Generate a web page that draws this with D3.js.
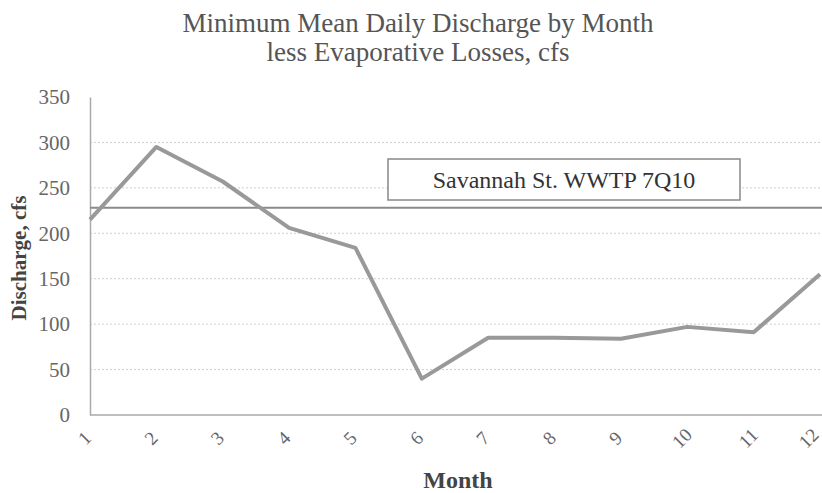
<!DOCTYPE html>
<html><head><meta charset="utf-8">
<script src="https://cdn.jsdelivr.net/npm/d3@7"></script>
<style>body{margin:0;background:#fff}</style>
</head><body>
<svg id="c" width="822" height="493"></svg>
<script>
const months = ["1","2","3","4","5","6","7","8","9","10","11","12"];
const discharge = [215, 295, 257, 206, 184, 40, 85, 85, 84, 97, 91, 155];
const yTicks = [0, 50, 100, 150, 200, 250, 300, 350];
const refValue = 228;
const refLabel = "Savannah St. WWTP 7Q10";
const titleLines = ["Minimum Mean Daily Discharge by Month", "less Evaporative Losses, cfs"];

const svg = d3.select("#c");
const mLeft = 90, mRight = 820, mTop = 97, mBottom = 415;
const x = d3.scalePoint().domain(months).range([mLeft, mRight]);
const y = d3.scaleLinear().domain([0, 350]).range([mBottom, mTop]);
const serif = "'Liberation Serif', 'DejaVu Serif', serif";

// gridlines
svg.append("g").selectAll("line").data(yTicks.filter(d => d > 0 && d < 350)).join("line")
  .attr("x1", mLeft).attr("x2", 822).attr("y1", d => y(d)).attr("y2", d => y(d))
  .attr("stroke", "#cfcfcf").attr("stroke-width", 1).attr("stroke-dasharray", "2,2");

// axes
const yAxis = svg.append("g").attr("transform", `translate(${mLeft},0)`)
  .call(d3.axisLeft(y).tickValues(yTicks).tickSize(0).tickPadding(20));
yAxis.select(".domain").attr("stroke", "#aaa").attr("stroke-width", 1.5);
yAxis.selectAll("text").attr("font-family", serif).attr("font-size", 21).attr("fill", "#666");

const xAxis = svg.append("g").attr("transform", `translate(0,${mBottom})`)
  .call(d3.axisBottom(x).tickSize(0).tickPadding(0));
xAxis.select(".domain").attr("stroke", "#aaa").attr("stroke-width", 1.5).attr("d", `M${mLeft},0H822`);
xAxis.selectAll("text").attr("font-family", serif).attr("font-size", 19).attr("fill", "#666")
  .attr("text-anchor", "middle").attr("dy", "0.35em").attr("y", 0)
  .attr("transform", (d, i) => `translate(${i === months.length - 1 ? -12 : -6},23) rotate(-45)`);

// reference line
svg.append("line").attr("x1", mLeft).attr("x2", 822)
  .attr("y1", y(refValue)).attr("y2", y(refValue))
  .attr("stroke", "#8a8a8a").attr("stroke-width", 2);

// data line
svg.append("path").datum(discharge)
  .attr("fill", "none").attr("stroke", "#999").attr("stroke-width", 4)
  .attr("stroke-linejoin", "round")
  .attr("d", d3.line().x((d, i) => x(months[i])).y(d => y(d)));

// ref label box
svg.append("rect").attr("x", 388).attr("y", 159).attr("width", 352).attr("height", 41)
  .attr("fill", "#fff").attr("stroke", "#888").attr("stroke-width", 1.5);
svg.append("text").attr("x", 564).attr("y", 188).attr("text-anchor", "middle")
  .attr("font-family", serif).attr("font-size", 24).attr("fill", "#333").text(refLabel);

// title
svg.append("g").selectAll("text").data(titleLines).join("text")
  .attr("x", 418).attr("y", (d, i) => 32 + i * 29).attr("text-anchor", "middle")
  .attr("font-family", serif).attr("font-size", 27).attr("fill", "#555").text(d => d);

// axis titles
svg.append("text").attr("transform", "translate(26,258) rotate(-90)").attr("text-anchor", "middle")
  .attr("font-family", serif).attr("font-size", 21).attr("font-weight", "bold").attr("fill", "#444")
  .text("Discharge, cfs");
svg.append("text").attr("x", 458).attr("y", 488).attr("text-anchor", "middle")
  .attr("font-family", serif).attr("font-size", 24).attr("font-weight", "bold").attr("fill", "#444")
  .text("Month");
</script>
</body></html>
